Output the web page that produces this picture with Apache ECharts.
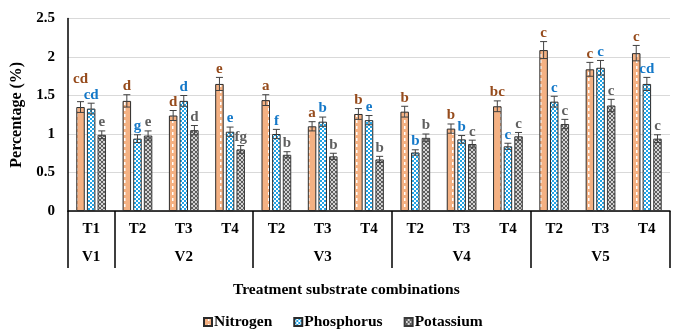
<!DOCTYPE html>
<html>
<head>
<meta charset="utf-8">
<script src="https://cdn.jsdelivr.net/npm/echarts@6/dist/echarts.min.js"></script>
<style>
  html, body { margin: 0; padding: 0; background: #fff; }
  #chart { width: 678px; height: 331px; }
</style>
</head>
<body>
<div id="chart"></div>
<script>
// Varieties (outer axis level) and their treatments (inner axis level)
const varieties = ['V1', 'V2', 'V3', 'V4', 'V5'];
const treatments = [['T1'], ['T2', 'T3', 'T4'], ['T2', 'T3', 'T4'], ['T2', 'T3', 'T4'], ['T2', 'T3', 'T4']];

// Nutrient content (%) per treatment combination, in axis order
const nitrogen   = [1.35, 1.43, 1.24, 1.65, 1.44, 1.10, 1.26, 1.29, 1.07, 1.36, 2.09, 1.84, 2.05];
const phosphorus = [1.33, 0.94, 1.43, 1.03, 1.00, 1.16, 1.18, 0.76, 0.93, 0.84, 1.42, 1.86, 1.65];
const potassium  = [0.99, 0.98, 1.05, 0.80, 0.73, 0.71, 0.67, 0.95, 0.87, 0.97, 1.13, 1.37, 0.94];

// Error bar half-lengths
const nitrogenErr   = [0.07, 0.08, 0.065, 0.085, 0.07, 0.06, 0.07, 0.07, 0.06, 0.07, 0.11, 0.09, 0.10];
const phosphorusErr = [0.07, 0.05, 0.07, 0.06, 0.06, 0.06, 0.06, 0.035, 0.05, 0.04, 0.07, 0.095, 0.085];
const potassiumErr  = [0.05, 0.06, 0.06, 0.05, 0.04, 0.04, 0.04, 0.05, 0.05, 0.05, 0.06, 0.08, 0.05];

// Significance letters
const nitrogenLetters   = ['cd', 'd', 'd', 'e', 'a', 'a', 'b', 'b', 'b', 'bc', 'c', 'c', 'c'];
const phosphorusLetters = ['cd', 'g', 'd', 'e', 'f', 'b', 'e', 'b', 'b', 'c', 'c', 'c', 'cd'];
const potassiumLetters  = ['e', 'e', 'd', 'fg', 'b', 'b', 'b', 'b', 'c', 'c', 'c', 'c', 'c'];

const yMin = 0, yMax = 2.5, yStep = 0.5;

const FONT = '"Liberation Serif", "Times New Roman", serif';
const TEXT_SIZE = 15.5;
const LETTER_FONT = 'bold 15px ' + FONT;
const LETTER_H = 16;

// Category keys (unique) and the variety group boundaries / centres
const categoryKeys = [];
const groupBounds = [0];
const groupCentres = [];
treatments.forEach((list, g) => {
  const start = categoryKeys.length;
  list.forEach(t => categoryKeys.push(varieties[g] + '|' + t));
  groupBounds.push(categoryKeys.length);
  groupCentres.push((start + categoryKeys.length) / 2);
});

// Fill patterns drawn onto small canvases
function tile(w, h, draw) {
  const c = document.createElement('canvas');
  c.width = w; c.height = h;
  draw(c.getContext('2d'));
  return c;
}
const nitrogenTile = tile(8, 6, ctx => {
  ctx.fillStyle = '#F4B183'; ctx.fillRect(0, 0, 8, 6);
  ctx.fillStyle = '#ffffff'; ctx.fillRect(4, 0, 1.5, 3);
});
const phosphorusTile = tile(4, 4, ctx => {
  ctx.fillStyle = '#ffffff'; ctx.fillRect(0, 0, 4, 4);
  ctx.fillStyle = '#22A4E6'; ctx.fillRect(0, 0, 2, 2); ctx.fillRect(2, 2, 2, 2);
});
const potassiumTile = tile(4, 4, ctx => {
  ctx.fillStyle = '#d4d4d4'; ctx.fillRect(0, 0, 4, 4);
  ctx.fillStyle = '#5e5e5e';
  [[0,0],[1,1],[2,2],[3,3],[3,0],[2,1],[1,2],[0,3]].forEach(p => ctx.fillRect(p[0], p[1], 1, 1));
});

// Text width helper for letter placement
const measureCtx = document.createElement('canvas').getContext('2d');
measureCtx.font = LETTER_FONT;
const textWidth = s => measureCtx.measureText(s).width;

const BAR_W = 8.5;
const BAR_GAP = 0.25;
const STEP = BAR_W * (1 + BAR_GAP);

const nutrients = [
  { name: 'Nitrogen',   values: nitrogen,   errs: nitrogenErr,   letters: nitrogenLetters,   fill: nitrogenTile,   border: '#2b2b2b', text: '#964B1C' },
  { name: 'Phosphorus', values: phosphorus, errs: phosphorusErr, letters: phosphorusLetters, fill: phosphorusTile, border: '#2b2b2b', text: '#1478C8' },
  { name: 'Potassium',  values: potassium,  errs: potassiumErr,  letters: potassiumLetters,  fill: potassiumTile,  border: '#3a3a3a', text: '#5f5f5f' }
];

const series = [];
nutrients.forEach(n => {
  series.push({
    type: 'bar',
    name: n.name,
    xAxisIndex: 0,
    yAxisIndex: 0,
    barWidth: BAR_W,
    barGap: (BAR_GAP * 100) + '%',
    data: n.values,
    itemStyle: {
      color: { image: n.fill, repeat: 'repeat' },
      borderColor: n.border,
      borderWidth: 1
    },
    emphasis: { disabled: true }
  });
});

// Error bars and significance letters
nutrients.forEach((n, slot) => {
  series.push({
    type: 'custom',
    xAxisIndex: 0,
    yAxisIndex: 0,
    z: 5,
    silent: true,
    data: n.values.map((v, i) => [i, v]),
    renderItem(params, api) {
      const idx = params.dataIndex;
      const i = api.value(0);
      const v = api.value(1);
      const e = n.errs[idx];
      const x = api.coord([i, v])[0] + (slot - 1) * STEP;
      const yTop = api.coord([i, v + e])[1];
      const yBot = api.coord([i, v - e])[1];
      let labelY = yTop - 1;

      // Lift a letter above its right-hand neighbour's letter when the two would collide
      if (slot < nutrients.length - 1) {
        const next = nutrients[slot + 1];
        const nx = x + STEP;
        const ny = api.coord([i, next.values[idx] + next.errs[idx]])[1] - 1;
        const halfW = (textWidth(n.letters[idx]) + textWidth(next.letters[idx])) / 2;
        if (Math.abs(nx - x) < halfW && Math.abs(ny - labelY) < LETTER_H) {
          labelY = Math.min(labelY, ny - LETTER_H);
        }
      }

      const cap = 3.5;
      const stroke = { stroke: '#404040', lineWidth: 1 };
      return {
        type: 'group',
        children: [
          { type: 'line', shape: { x1: x, y1: yTop, x2: x, y2: yBot }, style: stroke },
          { type: 'line', shape: { x1: x - cap, y1: yTop, x2: x + cap, y2: yTop }, style: stroke },
          { type: 'line', shape: { x1: x - cap, y1: yBot, x2: x + cap, y2: yBot }, style: stroke },
          {
            type: 'text',
            style: {
              text: n.letters[idx],
              x: x, y: labelY,
              align: 'center', verticalAlign: 'bottom',
              fill: n.text,
              font: LETTER_FONT
            }
          }
        ]
      };
    }
  });
});

const chart = echarts.init(document.getElementById('chart'), null, { renderer: 'canvas' });
chart.setOption({
  animation: false,
  backgroundColor: '#ffffff',
  title: {
    text: 'Treatment substrate combinations',
    left: 233,
    top: 282,
    padding: 0,
    textStyle: { fontFamily: FONT, fontSize: TEXT_SIZE, fontWeight: 'bold', color: '#000' }
  },
  legend: {
    data: nutrients.map(n => n.name),
    left: 203,
    top: 314,
    padding: 0,
    icon: 'rect',
    itemWidth: 8,
    itemHeight: 8,
    itemGap: 21,
    selectedMode: false,
    textStyle: { fontFamily: FONT, fontSize: TEXT_SIZE, fontWeight: 'bold', color: '#000', padding: [0, 0, 0, -3] }
  },
  grid: { left: 68, right: 8, top: 18.5, bottom: 120, containLabel: false },
  xAxis: [
    {
      type: 'category',
      data: categoryKeys,
      position: 'bottom',
      axisLine: { show: true, lineStyle: { color: '#000', width: 1.5 } },
      axisTick: { show: false },
      axisLabel: {
        interval: 0,
        margin: 11,
        formatter: v => v.split('|')[1],
        fontFamily: FONT, fontSize: 15, fontWeight: 'bold', color: '#000'
      },
      splitLine: { show: false }
    },
    {
      type: 'value',
      min: 0,
      max: categoryKeys.length,
      position: 'bottom',
      offset: 0,
      axisLine: { show: false },
      splitLine: { show: false },
      axisTick: {
        show: true,
        customValues: groupBounds,
        length: 57,
        lineStyle: { color: '#000', width: 1.5 }
      },
      axisLabel: {
        customValues: groupCentres,
        margin: 39,
        formatter: v => varieties[groupCentres.indexOf(v)],
        fontFamily: FONT, fontSize: 15, fontWeight: 'bold', color: '#000'
      }
    }
  ],
  yAxis: {
    type: 'value',
    min: yMin,
    max: yMax,
    interval: yStep,
    name: 'Percentage (%)',
    nameLocation: 'middle',
    nameGap: 36,
    nameTextStyle: { fontFamily: FONT, fontSize: 16, fontWeight: 'bold', color: '#000' },
    axisLine: { show: true, lineStyle: { color: '#000', width: 1.5 } },
    axisTick: { show: false },
    axisLabel: {
      margin: 13,
      formatter: v => String(v),
      fontFamily: FONT, fontSize: 15, fontWeight: 'bold', color: '#000'
    },
    splitLine: { show: true, lineStyle: { color: '#d9d9d9', width: 1 } }
  },
  series: series
});
</script>
</body>
</html>
